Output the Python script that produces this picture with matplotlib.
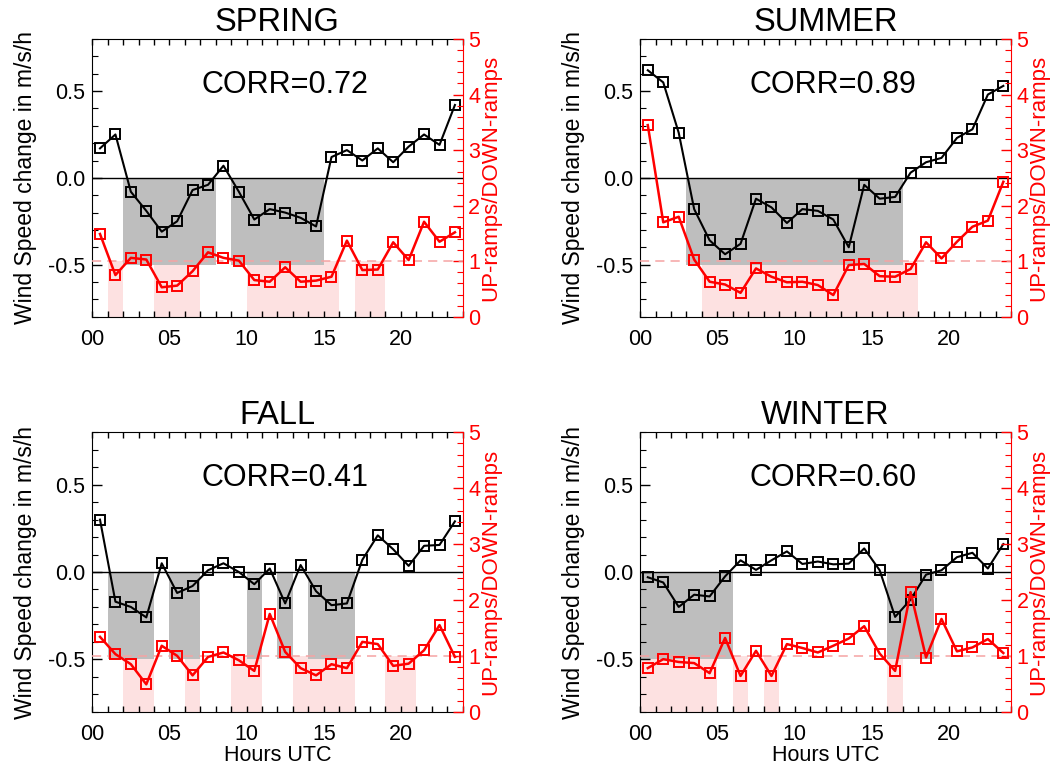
import numpy as np
import matplotlib
matplotlib.use('Agg')
from matplotlib import pyplot as pl
from matplotlib.ticker import MultipleLocator

pl.rcParams['font.family'] = ['Liberation Sans', 'DejaVu Sans']
pl.rcParams['axes.unicode_minus'] = False

hours = np.arange(24)
ticks = [0, 5, 10, 15, 20]
tick_labels = ['00', '05', '10', '15', '20']

titles = ['SPRING', 'SUMMER', 'FALL', 'WINTER']
corrs = [0.72, 0.89, 0.41, 0.60]

# mean wind speed change (m/s/h) per hour UTC
spring_speed = [0.17, 0.25, -0.08, -0.19, -0.31, -0.25, -0.07, -0.04, 0.07, -0.08, -0.24, -0.18,
                -0.20, -0.23, -0.28, 0.12, 0.16, 0.10, 0.17, 0.09, 0.18, 0.25, 0.19, 0.42]
summer_speed = [0.62, 0.55, 0.26, -0.18, -0.36, -0.44, -0.38, -0.12, -0.17, -0.26, -0.18, -0.19,
                -0.24, -0.40, -0.04, -0.12, -0.11, 0.03, 0.09, 0.115, 0.23, 0.28, 0.48, 0.53]
fall_speed = [0.30, -0.17, -0.20, -0.26, 0.05, -0.12, -0.08, 0.01, 0.05, 0.00, -0.07, 0.02,
              -0.18, 0.04, -0.11, -0.19, -0.18, 0.07, 0.21, 0.13, 0.035, 0.15, 0.155, 0.29]
winter_speed = [-0.03, -0.06, -0.20, -0.13, -0.14, -0.025, 0.067, 0.012, 0.067, 0.118, 0.046, 0.06,
                0.044, 0.048, 0.135, 0.01, -0.257, -0.158, -0.015, 0.01, 0.085, 0.11, 0.02, 0.16]

# ratio of up-ramps to down-ramps per hour UTC
spring_ratio = [1.49, 0.75, 1.06, 1.03, 0.53, 0.56, 0.82, 1.16, 1.06, 1.01, 0.66, 0.63,
                0.89, 0.63, 0.65, 0.72, 1.37, 0.84, 0.85, 1.34, 1.02, 1.71, 1.35, 1.52]
summer_ratio = [3.45, 1.70, 1.80, 1.03, 0.63, 0.58, 0.43, 0.87, 0.72, 0.62, 0.63, 0.57,
                0.39, 0.93, 0.95, 0.73, 0.72, 0.86, 1.34, 1.05, 1.35, 1.62, 1.73, 2.43]
fall_ratio = [1.34, 1.03, 0.85, 0.49, 1.18, 1.00, 0.65, 0.98, 1.06, 0.92, 0.73, 1.75,
              1.07, 0.78, 0.65, 0.85, 0.78, 1.25, 1.21, 0.82, 0.86, 1.10, 1.55, 0.98]
winter_ratio = [0.78, 0.94, 0.89, 0.87, 0.69, 1.32, 0.64, 1.09, 0.64, 1.21, 1.14, 1.06,
                1.18, 1.31, 1.53, 1.04, 0.73, 2.14, 0.97, 1.66, 1.08, 1.15, 1.30, 1.05]

# hour ranges (start, end) with negative speed change / ratio below one
spring_neg = [(2, 8), (9, 15)]
summer_neg = [(3, 17)]
fall_neg = [(1, 4), (5, 7), (10, 11), (12, 13), (14, 17)]
winter_neg = [(0, 6), (16, 19)]

spring_low = [(1, 2), (4, 7), (10, 16), (17, 19)]
summer_low = [(4, 18)]
fall_low = [(2, 4), (6, 7), (9, 11), (13, 17), (19, 21)]
winter_low = [(0, 5), (6, 7), (8, 9), (16, 17)]

speeds = [spring_speed, summer_speed, fall_speed, winter_speed]
ratios = [spring_ratio, summer_ratio, fall_ratio, winter_ratio]
negs = [spring_neg, summer_neg, fall_neg, winter_neg]
lows = [spring_low, summer_low, fall_low, winter_low]

rects = [[0.0878, 0.5876, 0.3524, 0.3616],
         [0.6090, 0.5876, 0.3530, 0.3616],
         [0.0878, 0.0733, 0.3524, 0.3638],
         [0.6090, 0.0733, 0.3530, 0.3638]]

red = '#ff0000'
pink = '#fde1e1'
grey = '#bebebe'
dashcol = '#f5a3a3'
ratio_top = 5.0

fig = pl.figure(figsize=(10.51, 7.68), dpi=100)

for i in range(4):
    ax = fig.add_axes(rects[i])
    ax2 = ax.twinx()
    x = hours + 0.5

    for a, b in lows[i]:
        ax.axvspan(a, b, ymin=0, ymax=1.0/ratio_top, color=pink, lw=0, zorder=0)
    for a, b in negs[i]:
        ax.fill_between([a, b], -0.5, 0, color=grey, lw=0, zorder=1)
    ax.axhline(0, color='k', lw=1, zorder=2)
    ax.plot(x, speeds[i], color='k', lw=1.5, marker='s', ms=7.5, mfc='none', mew=1.4, zorder=3)

    ax2.axhline(1, color=dashcol, lw=1.1, linestyle=(0, (6, 4)))
    ax2.plot(x, ratios[i], color=red, lw=1.8, marker='s', ms=7.5, mfc='none', mew=1.4)

    ax.set_xlim(0, 24)
    ax.set_ylim(-0.8, 0.8)
    ax2.set_ylim(0, ratio_top)

    ax.set_xticks(ticks)
    ax.set_xticklabels(tick_labels)
    ax.xaxis.set_minor_locator(MultipleLocator(1))
    ax.set_yticks([-0.5, 0.0, 0.5])
    ax.set_yticklabels(['-0.5', '0.0', '0.5'])
    ax.yaxis.set_minor_locator(MultipleLocator(0.1))
    ax.tick_params(axis='x', which='both', direction='in', top=True, length=4, width=1, pad=9, labelsize=15.5)
    ax.tick_params(axis='y', which='major', direction='in', right=False, length=7, width=1, pad=5, labelsize=15.5)
    ax.tick_params(axis='y', which='minor', direction='in', right=False, length=4, width=0.8)

    ax2.set_yticks([0, 1, 2, 3, 4, 5])
    ax2.yaxis.set_minor_locator(MultipleLocator(0.2))
    ax2.tick_params(axis='y', which='major', direction='in', colors=red, length=7, width=1, pad=4, labelsize=15.5)
    ax2.tick_params(axis='y', which='minor', direction='in', colors=red, length=4, width=0.8)

    ax.spines['right'].set_visible(False)
    ax2.spines['right'].set_color(red)
    for s in ['left', 'top', 'bottom']:
        ax2.spines[s].set_visible(False)

    ax.set_ylabel('Wind Speed change in m/s/h', fontsize=16.5, labelpad=8)
    ax2.set_ylabel('UP-ramps/DOWN-ramps', color=red, fontsize=16, labelpad=0)
    ax.set_title(titles[i], fontsize=23.5, pad=6)
    ax.text(0.52, 0.835, 'CORR=%.2f' % corrs[i], transform=ax.transAxes,
            ha='center', va='center', fontsize=22)
    if i >= 2:
        ax.set_xlabel('Hours UTC', fontsize=15.5, labelpad=0)

fig.savefig('out.png', dpi=100)
